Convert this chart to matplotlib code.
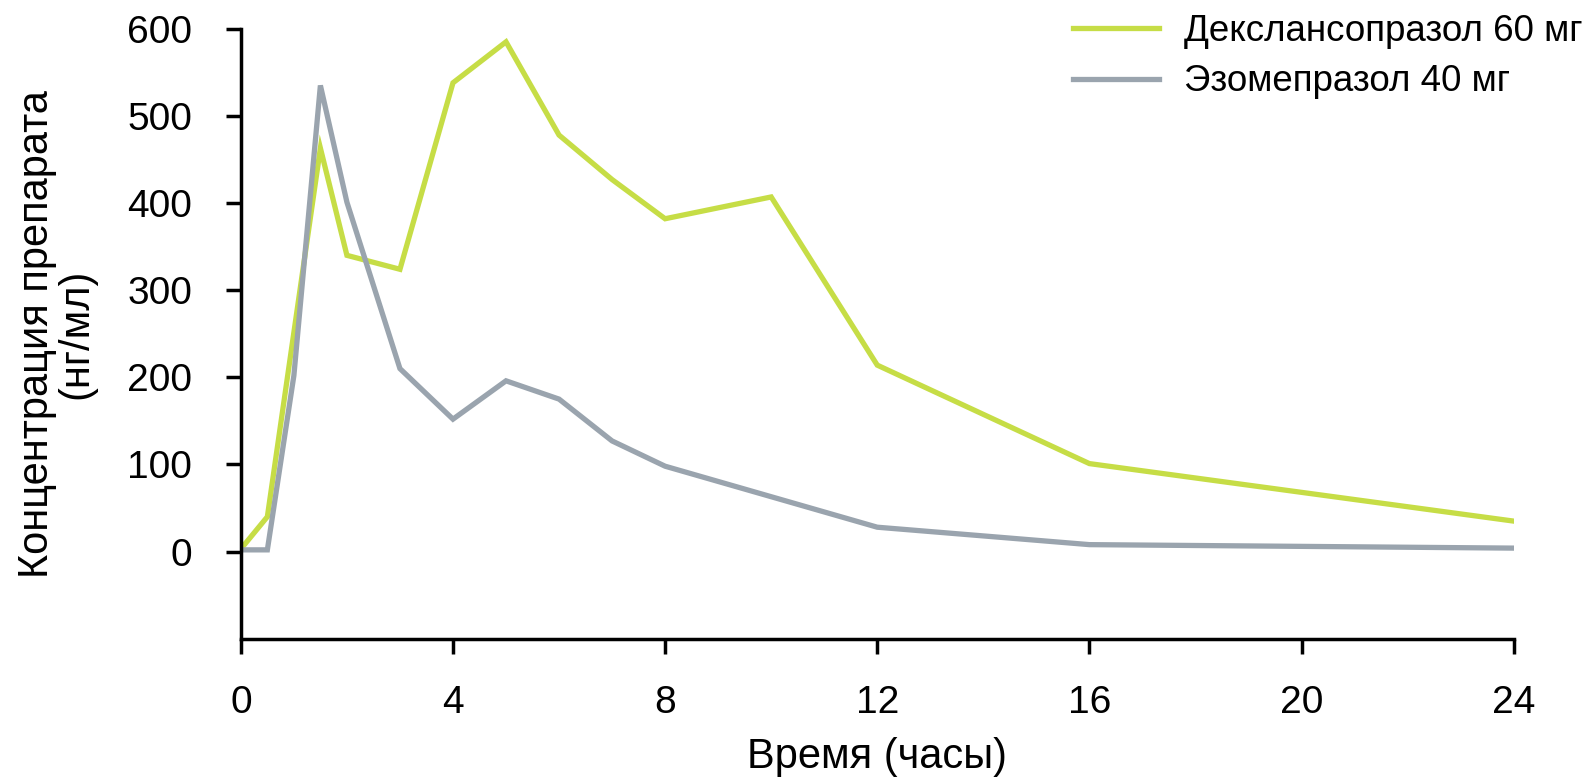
import matplotlib
matplotlib.use('Agg')
import matplotlib.pyplot as plt

plt.rcParams['font.family'] = ['Liberation Sans', 'DejaVu Sans']

# ===== DATA =====
dex_t = [0, 0.5, 1.5, 2, 3, 4, 5, 6, 7, 8, 10, 12, 16, 24]
dex_c = [3, 40, 463, 340, 324, 538, 585, 478, 427, 382, 407, 214, 101, 35]

eso_t = [0, 0.5, 1, 1.5, 2, 3, 4, 5, 6, 7, 8, 12, 16, 24]
eso_c = [2, 2, 202, 535, 401, 210, 152, 196, 175, 127, 98, 28, 8, 4]

labels = ['Декслансопразол 60 мг', 'Эзомепразол 40 мг']
x_ticks = [0, 4, 8, 12, 16, 20, 24]
y_ticks = [0, 100, 200, 300, 400, 500, 600]

GREEN = '#c6dd46'
GRAY = '#9aa4ae'

fig = plt.figure(figsize=(15.95, 7.78), dpi=100)
ax = fig.add_axes([0.151, 0.179, 0.798, 0.784])

ax.plot(dex_t, dex_c, color=GREEN, lw=3.8, label=labels[0], solid_joinstyle='miter')
ax.plot(eso_t, eso_c, color=GRAY, lw=3.8, label=labels[1], solid_joinstyle='miter')

ax.set_xlim(0, 24)
ax.set_ylim(-100, 600)
ax.set_xticks(x_ticks)
ax.set_yticks(y_ticks)
ax.tick_params(axis='both', labelsize=28, width=2.5, length=11, direction='out')
ax.tick_params(axis='x', pad=22)
ax.tick_params(axis='y', pad=24)

for side in ['top', 'right']:
    ax.spines[side].set_visible(False)
for side in ['left', 'bottom']:
    ax.spines[side].set_linewidth(2.5)

ax.set_xlabel('Время (часы)', fontsize=30, labelpad=12)
ax.set_ylabel('Концентрация препарата\n(нг/мл)', fontsize=30, labelpad=22,
              linespacing=0.98)

ax.legend(loc='upper left', bbox_to_anchor=(0.6727, 0.982),
          bbox_transform=fig.transFigure, frameon=False, fontsize=26.5,
          handlelength=2.35, handletextpad=0.68, labelspacing=0.42,
          borderaxespad=0, borderpad=0)

fig.savefig('out.png', dpi=100)
